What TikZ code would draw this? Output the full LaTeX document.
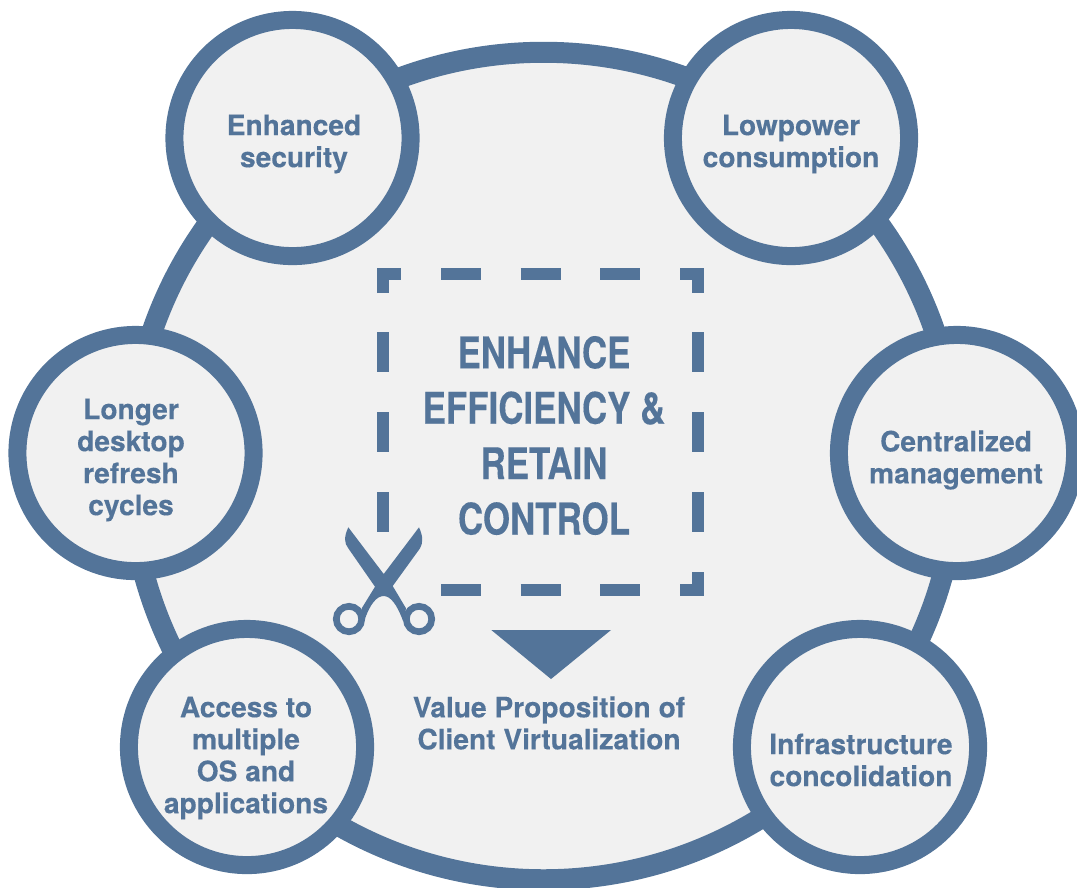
\documentclass[tikz,border=0pt]{standalone}
\usepackage{fontspec}
\setmainfont[BoldFeatures={FakeBold=0.25}]{TeX Gyre Heros}
\newfontfamily\headfont[FakeStretch=0.8,BoldFeatures={FakeBold=0.25}]{TeX Gyre Heros}
\definecolor{slateblue}{HTML}{537499}
\definecolor{panelgray}{HTML}{F1F1F1}
\tikzset{
    hub/.style={circle, draw=slateblue, fill=panelgray, line width=0.21cm, minimum size=8.27cm, inner sep=0pt, outer sep=0pt},
    bubble/.style={circle, draw=slateblue, fill=panelgray, line width=0.18cm, minimum size=2.36cm, inner sep=0pt, outer sep=0pt},
    caption/.style={text=slateblue, align=center, font=\fontsize{8pt}{9.1pt}\selectfont\bfseries},
    headline/.style={text=slateblue, align=center, font=\fontsize{12.4pt}{15.75pt}\headfont\bfseries},
    cutline/.style={draw=slateblue, line width=0.12cm}
}
\begin{document}
\begin{tikzpicture}[x=0.01cm, y=-0.01cm]
    \useasboundingbox (0,0) rectangle (1077,887);

    % Large circle
    \node[hub] (hub) at (543.5,466) {};

    % Small circles
    \node[bubble] (security) at (292.5,138) {};
    \node[bubble] (power) at (791,138) {};
    \node[bubble] (refresh) at (135.5,453) {};
    \node[bubble] (management) at (957,453) {};
    \node[bubble] (access) at (247,747) {};
    \node[bubble] (infra) at (860,747) {};

    % Circle labels
    \node[caption] (securitytext) at (294,144) {Enhanced\\security};
    \node[caption] (powertext) at (791,144) {Lowpower\\consumption};
    \node[caption] (refreshtext) at (131,460) {Longer\\desktop\\refresh\\cycles};
    \node[caption] (managementtext) at (956,460) {Centralized\\management};
    \node[caption] (accesstext) at (246,758) {Access to\\multiple\\OS and\\applications};
    \node[caption] (infratext) at (861,760) {Infrastructure\\concolidation};

    % Cut line corners
    \draw[cutline] (383,293) -- (383,274) -- (401,274);
    \draw[cutline] (680,274) -- (698,274) -- (698,293);
    \draw[cutline] (698,572) -- (698,590) -- (680,590);

    % Cut line dashes
    \foreach \x in {441,520.5,600} {
        \draw[cutline] (\x,274) -- ++(40,0);
        \draw[cutline] (\x,590) -- ++(40,0);
    }
    \foreach \y in {332,412,492} {
        \draw[cutline] (383,\y) -- ++(0,40);
        \draw[cutline] (698,\y) -- ++(0,40);
    }

    % Scissors
    \fill[slateblue] (348.3,527.3) -- (383.7,574) -- (419,527.3)
        .. controls (423.3,536.7) and (423,543) .. (420,548.3)
        -- (392.7,586) -- (406,608.3) -- (403.3,621.7)
        .. controls (396.7,603.3) and (390,596) .. (383.7,596)
        .. controls (377,596) and (370,603.3) .. (364,621.7)
        -- (361.7,608.3) -- (375,586.7) -- (348.3,548.3)
        .. controls (344,543) and (344,536.7) .. (348.3,527.3) -- cycle;
    \draw[slateblue, fill=panelgray, line width=0.067cm] (349,619) circle (0.127cm);
    \draw[slateblue, fill=panelgray, line width=0.067cm] (419,619) circle (0.127cm);

    % Triangle
    \fill[slateblue] (491.3,630) -- (611,630) -- (551,679) -- cycle;

    % Labels
    \node[headline] (title) at (544,435.5) {ENHANCE\\EFFICIENCY \&\\RETAIN\\CONTROL};
    \node[caption] (proposition) at (549,723) {Value Proposition of\\Client Virtualization};
\end{tikzpicture}
\end{document}
